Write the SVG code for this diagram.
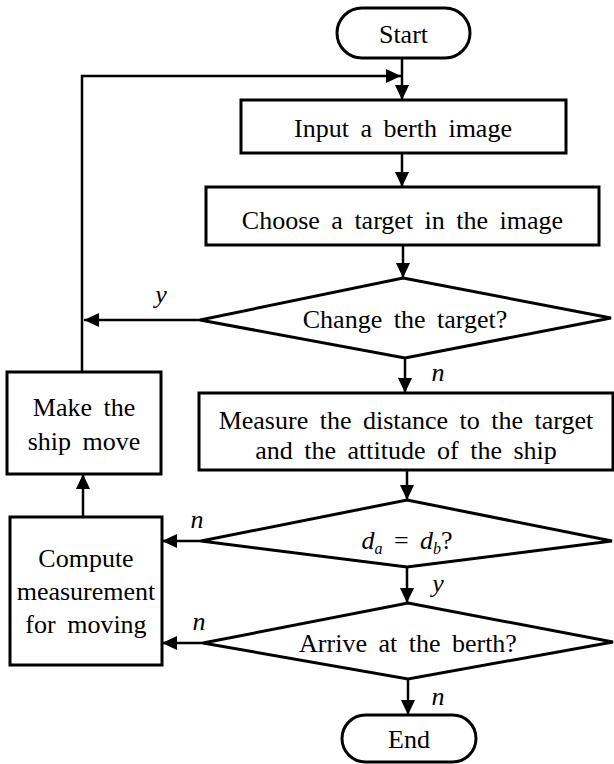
<svg xmlns="http://www.w3.org/2000/svg" width="614" height="764" viewBox="0 0 614 764">
<style>
.box{fill:#fff;stroke:#000;stroke-width:3}
.ln{fill:none;stroke:#000;stroke-width:2.5}
.t{font-family:"Liberation Serif","Times New Roman",serif;font-size:26px;fill:#000;text-anchor:middle;word-spacing:5px}
.lb{font-family:"Liberation Serif","Times New Roman",serif;font-size:26px;font-style:italic;fill:#000;text-anchor:middle}
</style>
<defs>
<marker id="ah" viewBox="0 0 15 14" refX="15" refY="7" markerWidth="15" markerHeight="14" markerUnits="userSpaceOnUse" orient="auto">
<path d="M0,0 L15,7 L0,14 Z" fill="#000"/>
</marker>
</defs>
<rect width="614" height="764" fill="#fff"/>
<g id="connectors">
<line class="ln" x1="402" y1="58" x2="402" y2="100" marker-end="url(#ah)"/>
<polyline class="ln" points="82,372 82,76 401,76" marker-end="url(#ah)"/>
<line class="ln" x1="402" y1="153" x2="402" y2="187" marker-end="url(#ah)"/>
<line class="ln" x1="403" y1="245" x2="403" y2="278" marker-end="url(#ah)"/>
<line class="ln" x1="200" y1="320" x2="84" y2="320" marker-end="url(#ah)"/>
<line class="ln" x1="405" y1="358" x2="405" y2="393" marker-end="url(#ah)"/>
<line class="ln" x1="407" y1="470" x2="407" y2="500" marker-end="url(#ah)"/>
<line class="ln" x1="201" y1="541" x2="162" y2="541" marker-end="url(#ah)"/>
<line class="ln" x1="407" y1="567" x2="407" y2="603" marker-end="url(#ah)"/>
<line class="ln" x1="203" y1="643" x2="162" y2="643" marker-end="url(#ah)"/>
<line class="ln" x1="408" y1="679" x2="408" y2="715" marker-end="url(#ah)"/>
<line class="ln" x1="83" y1="517" x2="83" y2="474" marker-end="url(#ah)"/>
<text class="lb" x="161" y="303">y</text>
<text class="lb" x="438" y="381">n</text>
<text class="lb" x="197" y="528">n</text>
<text class="lb" x="438" y="592">y</text>
<text class="lb" x="199" y="630">n</text>
<text class="lb" x="438" y="705">n</text>
</g>
<g id="start">
<rect class="box" x="337" y="8" width="133" height="50" rx="25"/>
<text class="t" x="403.5" y="43">Start</text>
</g>
<g id="input">
<rect class="box" x="241" y="100" width="325" height="53"/>
<text class="t" x="403" y="137">Input a berth image</text>
</g>
<g id="choose">
<rect class="box" x="206" y="187" width="393" height="58"/>
<text class="t" x="402.5" y="229">Choose a target in the image</text>
</g>
<g id="change">
<polygon class="box" points="403,278 611,318 405,358 200,320"/>
<text class="t" x="405" y="328">Change the target?</text>
</g>
<g id="measure">
<rect class="box" x="199" y="393" width="414" height="77"/>
<text class="t" x="406" y="429">Measure the distance to the target</text>
<text class="t" x="406" y="459">and the attitude of the ship</text>
</g>
<g id="compare">
<polygon class="box" points="407,500 612,541 407,567 201,541"/>
<text class="t" x="407" y="549"><tspan font-style="italic">d</tspan><tspan font-style="italic" font-size="16" dy="5">a</tspan><tspan dy="-5"> = </tspan><tspan font-style="italic">d</tspan><tspan font-style="italic" font-size="16" dy="5">b</tspan><tspan dy="-5">?</tspan></text>
</g>
<g id="arrive">
<polygon class="box" points="408,603 613,642 408,679 203,643"/>
<text class="t" x="408" y="652">Arrive at the berth?</text>
</g>
<g id="end">
<rect class="box" x="342" y="715" width="134" height="47" rx="23.5"/>
<text class="t" x="409" y="748">End</text>
</g>
<g id="make">
<rect class="box" x="7" y="372" width="154" height="102"/>
<text class="t" x="84" y="416">Make the</text>
<text class="t" x="84" y="450">ship move</text>
</g>
<g id="compute">
<rect class="box" x="10" y="517" width="152" height="148"/>
<text class="t" x="86" y="567">Compute</text>
<text class="t" x="86" y="600">measurement</text>
<text class="t" x="86" y="633">for moving</text>
</g>
</svg>
